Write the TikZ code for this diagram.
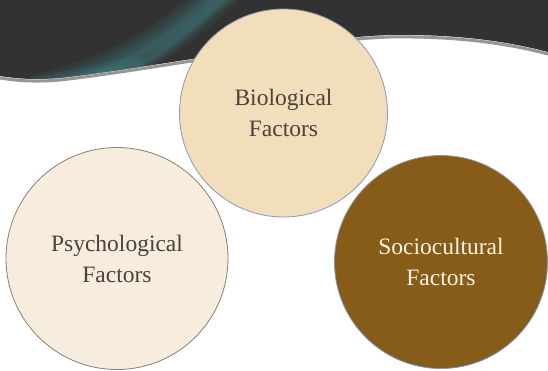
\documentclass[tikz,border=0pt]{standalone}
\usepackage{fontspec}
\setmainfont{Liberation Serif}
\begin{document}
\begin{tikzpicture}[x=1pt,y=-1pt,
  factor/.style={circle, draw, line width=0.8pt, align=center, inner sep=0pt,
    font=\fontsize{23.5}{31}\selectfont},
  bio/.style={factor, fill={rgb,255:red,242;green,222;blue,187}, draw={rgb,255:red,138;green,155;blue,176},
    text={rgb,255:red,74;green,66;blue,56}},
  psy/.style={factor, fill={rgb,255:red,246;green,237;blue,222}, draw={rgb,255:red,140;green,126;blue,112},
    text={rgb,255:red,74;green,66;blue,56}},
  soc/.style={factor, fill={rgb,255:red,135;green,92;blue,25}, draw={rgb,255:red,135;green,150;blue,170},
    text={rgb,255:red,248;green,242;blue,228}},
  glow/.style={tealA, line cap=round, opacity=0.09}]
\definecolor{banner}{RGB}{50,50,50}
\definecolor{tealA}{RGB}{70,150,155}
\useasboundingbox (0,0) rectangle (548,370);
\fill[white] (0,0) rectangle (548,370);

% dark header with a wavy lower edge and a soft grey rim
\draw[line width=3pt, color={rgb,255:red,150;green,150;blue,150}]
  (0,78) .. controls (20,81) and (35,82) .. (60,80)
  .. controls (150,70) and (300,40) .. (390,37)
  .. controls (460,36) and (510,44) .. (548,54);
\fill[banner] (0,0) -- (548,0) -- (548,52)
  .. controls (510,42) and (460,34) .. (390,35)
  .. controls (300,38) and (150,68) .. (60,78)
  .. controls (35,80) and (20,79) .. (0,76) -- cycle;

% soft teal light streaks inside the header
\begin{scope}
  \clip (0,0) -- (548,0) -- (548,52)
    .. controls (510,42) and (460,34) .. (390,35)
    .. controls (300,38) and (150,68) .. (60,78)
    .. controls (35,80) and (20,79) .. (0,76) -- cycle;
  \foreach \w in {36,28,21,15,10,6}
    \draw[glow, line width=\w pt] (40,92) .. controls (120,72) and (170,40) .. (222,-8);
  \foreach \w in {20,14,9,5}
    \draw[glow, line width=\w pt] (30,88) .. controls (70,80) and (105,74) .. (135,66);
  \foreach \w in {12,7,3}
    \draw[glow, line width=\w pt] (140,66) .. controls (170,48) and (195,25) .. (232,-8);
\end{scope}

% the three factor circles
\node[psy, minimum size=222pt] (psy) at (117,258.5) {Psychological\\Factors};
\node[bio, minimum size=208pt] (bio) at (283.5,113) {Biological\\Factors};
\node[soc, minimum size=213pt] (soc) at (441,262) {Sociocultural\\Factors};
\end{tikzpicture}
\end{document}
